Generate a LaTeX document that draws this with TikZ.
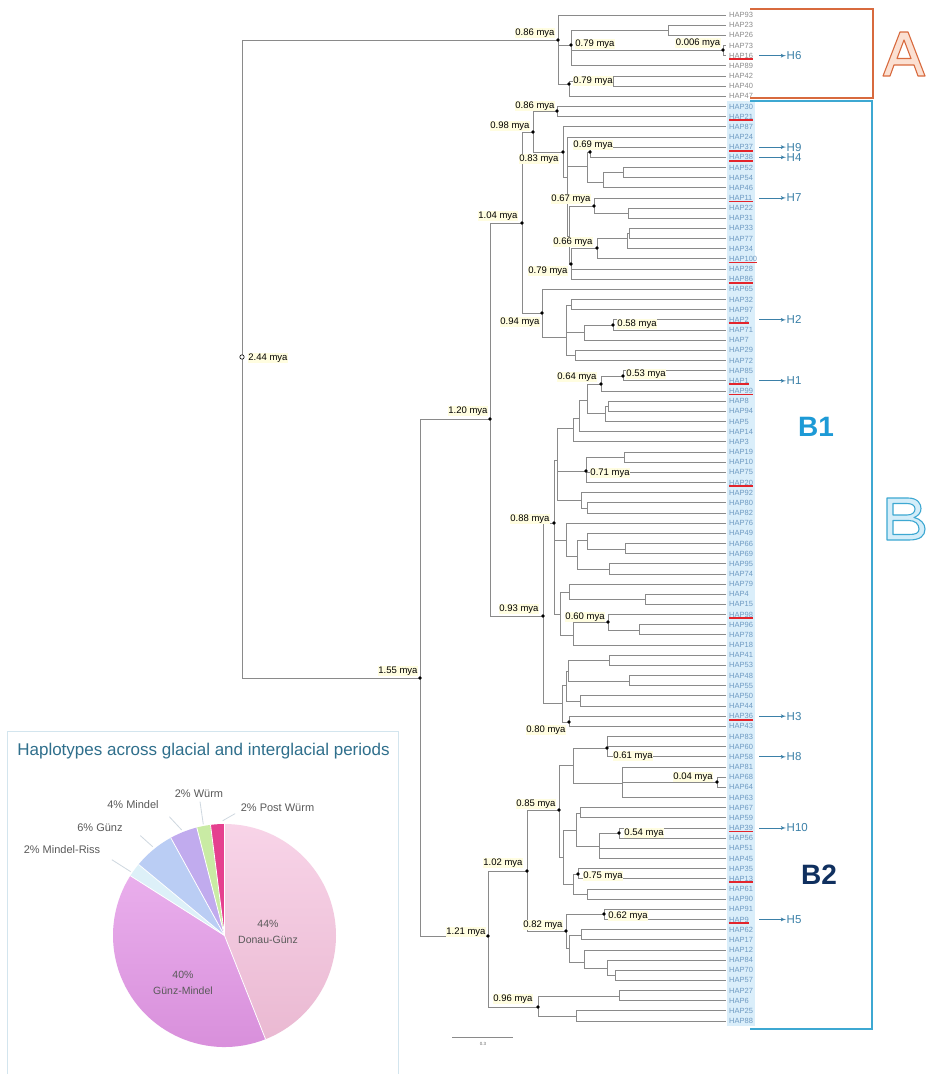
\documentclass[tikz,border=0pt]{standalone}
\usepackage{fontspec}
\setmainfont{Liberation Sans}
\usetikzlibrary{arrows}
\usetikzlibrary{positioning}

\definecolor{branchgray}{HTML}{8A8A8A}
\definecolor{leafA}{HTML}{8C8C8C}
\definecolor{leafB}{HTML}{6E9AC2}
\definecolor{leafbg}{HTML}{DAEEFA}
\definecolor{ulred}{HTML}{E3242B}
\definecolor{hblue}{HTML}{3B80A8}
\definecolor{cladeA}{HTML}{D86A3E}
\definecolor{cladeAfill}{HTML}{FBE0D2}
\definecolor{cladeB}{HTML}{3DA8D2}
\definecolor{cladeBfill}{HTML}{D3EDF9}
\definecolor{bone}{HTML}{1D9AD6}
\definecolor{btwo}{HTML}{10305F}
\definecolor{myabg}{HTML}{FFFDE0}
\definecolor{titleblue}{HTML}{2F6F8C}
\definecolor{boxline}{HTML}{D3E5EE}
\definecolor{leadgray}{HTML}{CFD8E0}
\definecolor{pieDG}{HTML}{F8D4E8}
\definecolor{pieDGb}{HTML}{EAB9D2}
\definecolor{pieGM}{HTML}{E9AEEC}
\definecolor{pieGMb}{HTML}{D78DDA}
\definecolor{pieMR}{HTML}{DDF0F8}
\definecolor{pieG}{HTML}{BACDF4}
\definecolor{pieM}{HTML}{C1ABEE}
\definecolor{pieW}{HTML}{C9EBA4}
\definecolor{piePW}{HTML}{E5408F}

\tikzset{branch/.style = {draw=branchgray, line width=0.8pt},
         leaf/.style = {anchor=west, inner sep=0pt,
                        font=\fontsize{7.5}{8}\selectfont},
         mya/.style = {fill=myabg, inner sep=0.6pt,
                       font=\fontsize{9.5}{10}\selectfont},
         uline/.style = {draw=ulred, line width=1.8pt},
         harrow/.style = {draw=hblue, line width=0.8pt, -latex'},
         hlab/.style = {anchor=west, inner sep=0.5pt, text=hblue,
                        font=\fontsize{11.5}{12}\selectfont},
         piecap/.style = {inner sep=0.5pt, text=black!65,
                          font=\fontsize{11}{12}\selectfont},
         leader/.style = {draw=leadgray, line width=0.8pt}}

\begin{document}
\begin{tikzpicture}[x=1pt, y=-1pt]
  \useasboundingbox[fill=white] (0,0) rectangle (926,1074);

  % highlight of the B labels
  \fill[leafbg] (727,101) rectangle (755,1026);

  % leaves
  \foreach \n [count=\i] in {93,23,26,73,16,89,42,40,47,30,21,87,24,37,38,52,54,
      46,11,22,31,33,77,34,100,28,86,65,32,97,2,71,7,29,72,85,1,99,8,94,5,14,3,
      19,10,75,20,92,80,82,76,49,66,69,95,74,79,4,15,98,96,78,18,41,53,48,55,50,
      44,36,43,83,60,58,81,68,64,63,67,59,39,56,51,45,35,13,61,90,91,9,62,17,12,
      84,70,57,27,6,25,88} {
    \pgfmathsetmacro\yy{15+(\i-1)*10.162}
    \coordinate (h\n) at (726,\yy);
    \ifnum\i<10
      \node[leaf, text=leafA] (t\n) at (729,\yy) {HAP\n};
    \else
      \node[leaf, text=leafB] (t\n) at (729,\yy) {HAP\n};
    \fi
  }

  % inner nodes
  \foreach \n/\x/\y in {root/242/357, nA/558/40, nA1/571/45, nA1a/668/30,
      nA1b/723/50, nA2/569/84, nA2a/613/81,
      n155/420/678, n120/490/419, n104/522/223, n098/533/132, n086/557/111,
      n083/563/152, nB1/567/177, nB2/587/166, n069/590/152, nB3/603/182,
      nB4/623/172, nB5/569/236, n067/594/206, nB6/628/213, n079b/571/264,
      n066/597/248, nB7/627/238, nB8/629/233,
      n094/542/313, nC1/566/337, nC2/571/305, nC3/584/332, n058/613/325,
      nC5/575/355,
      n093/543/616, n088/554/523, nE/557/460, nE1/573/428, nE1a/579/418,
      nE1b/587/400, n064/601/384, n053/623/376, nE1c/605/413, nE1d/608/406,
      n071/586/471, nE3/624/457, nE2/581/500, nE4/587/508,
      nF/566/540, nF1/577/556, nF2/587/540, nF3/625/549, nF4/609/569,
      nG/560/614, nG1/569/592, nG3/645/599, nG2/573/635, n060/608/622,
      nG4/639/630,
      nH/562/703, nH1/566/685, nH2/568/671, nH3/609/660, nH4/629/681,
      nH5/580/701, n080/569/722,
      n121/488/936, n102/527/871, n085/559/810, nI/573/765, n061/607/748,
      nI2/622/783, n004/717/782, nL/563/857, nJ/576/830, nJ1/580/813,
      nJ2/599/846, n054/619/833, nK/573/884, n075/578/874, nK1/587/894,
      n082/566/931, n062/604/914, nM/569/948, nM1/581/935, nN/584/962,
      nO/607/968, nO1/615/975, n096/538/1007, nP1/619/996, nP2/576/1016}
    \coordinate (\n) at (\x,\y);

  % branches
  \foreach \p/\c in {root/nA, root/n155,
      nA/h93, nA/nA1, nA/nA2, nA1/nA1a, nA1/nA1b, nA1/h89, nA1a/h23, nA1a/h26,
      nA1b/h73, nA1b/h16, nA2/nA2a, nA2/h47, nA2a/h42, nA2a/h40,
      n155/n120, n155/n121, n120/n104, n120/n093, n104/n098, n104/n094,
      n098/n086, n098/n083, n086/h30, n086/h21, n083/h87, n083/nB1,
      nB1/h24, nB1/nB2, nB1/nB5, nB2/n069, nB2/nB3, n069/h37, n069/h38,
      nB3/nB4, nB3/h46, nB4/h52, nB4/h54, nB5/n067, nB5/n079b,
      n067/h11, n067/nB6, nB6/h22, nB6/h31, n079b/n066, n079b/h28, n079b/h86,
      n066/nB7, n066/h100, nB7/nB8, nB7/h34, nB8/h33, nB8/h77,
      n094/h65, n094/nC1, nC1/nC2, nC1/nC3, nC1/nC5, nC2/h32, nC2/h97,
      nC3/n058, nC3/h7, n058/h2, n058/h71, nC5/h29, nC5/h72,
      n093/n088, n093/nH, n088/nE, n088/nF, n088/nG,
      nE/nE1, nE/n071, nE/nE2, nE1/nE1a, nE1/h3, nE1a/nE1b, nE1a/h14,
      nE1b/n064, nE1b/nE1c, n064/n053, n064/h99, n053/h85, n053/h1,
      nE1c/nE1d, nE1c/h5, nE1d/h8, nE1d/h94, n071/nE3, n071/h75, n071/h20,
      nE3/h19, nE3/h10, nE2/h92, nE2/nE4, nE4/h80, nE4/h82,
      nF/h76, nF/nF1, nF1/nF2, nF1/nF4, nF2/h49, nF2/nF3, nF3/h66, nF3/h69,
      nF4/h95, nF4/h74, nG/nG1, nG/nG2, nG1/h79, nG1/nG3, nG3/h4, nG3/h15,
      nG2/n060, nG2/h18, n060/h98, n060/nG4, nG4/h96, nG4/h78,
      nH/nH1, nH/n080, nH1/nH2, nH1/nH5, nH2/nH3, nH2/nH4, nH3/h41, nH3/h53,
      nH4/h48, nH4/h55, nH5/h50, nH5/h44, n080/h36, n080/h43,
      n121/n102, n121/n096, n102/n085, n102/n082, n085/nI, n085/nL,
      nI/n061, nI/nI2, n061/h83, n061/h60, n061/h58, nI2/h81, nI2/n004,
      nI2/h63, n004/h68, n004/h64, nL/nJ, nL/nK, nJ/nJ1, nJ/nJ2,
      nJ1/h67, nJ1/h59, nJ2/n054, nJ2/h51, nJ2/h45, n054/h39, n054/h56,
      nK/n075, nK/nK1, n075/h35, n075/h13, nK1/h61, nK1/h90,
      n082/n062, n082/nM, n062/h91, n062/h9, nM/nM1, nM/nN, nM1/h62, nM1/h17,
      nN/h12, nN/nO, nO/h84, nO/nO1, nO1/h70, nO1/h57,
      n096/nP1, n096/nP2, nP1/h27, nP1/h6, nP2/h25, nP2/h88}
    \draw[branch] (\p) |- (\c);

  % node dates
  \foreach \n in {nA,nA1,nA1b,nA2,n086,n098,n083,n069,n067,n066,n079b,n104,
      n094,n058,n064,n053,n120,n071,n088,n093,n060,n155,n080,n061,n004,n085,
      n054,n102,n075,n121,n062,n082,n096}
    \fill (\n) circle[radius=1.8];
  \draw[fill=white, line width=0.6pt] (root) circle[radius=2.2];
  \foreach \n/\v/\x/\y in {root/2.44/268/358, nA/0.86/535/33, nA1/0.79/595/44,
      nA1b/0.006/698/43, nA2/0.79/593/81, n086/0.86/535/106,
      n098/0.98/510/126, n083/0.83/539/159, n069/0.69/593/145,
      n067/0.67/571/199, n066/0.66/573/242, n079b/0.79/548/271,
      n104/1.04/498/216, n094/0.94/520/322, n058/0.58/637/324,
      n064/0.64/577/377, n053/0.53/646/374, n120/1.20/468/411,
      n071/0.71/610/473, n088/0.88/530/519, n093/0.93/519/609,
      n060/0.60/585/617, n155/1.55/398/671, n080/0.80/546/730,
      n061/0.61/633/756, n004/0.04/693/777, n085/0.85/536/804,
      n054/0.54/644/833, n102/1.02/503/863, n075/0.75/603/876,
      n121/1.21/466/932, n062/0.62/628/916, n082/0.82/543/925,
      n096/0.96/513/999}
    \node[mya] (m\n) at (\x,\y) {\v\ mya};

  % scale bar
  \coordinate (sb1) at (452,1037);
  \coordinate (sb2) at (513,1037);
  \draw[branch, line width=0.6pt] (sb1) -- (sb2);
  \node[inner sep=0pt, font=\fontsize{4.5}{5}\selectfont, text=black!60]
    (sbl) at (483,1044) {0.3};

  % underlined haplotypes
  \foreach \n in {16,21,37,38,11,100,86,2,1,99,20,98,36,39,13,9}
    \draw[uline] ([yshift=-0.7pt]t\n.south west) -- ([yshift=-0.7pt]t\n.south east);

  % arrows to the named haplotypes
  \coordinate (ax) at (759,0);
  \coordinate (hx) at (786,0);
  \foreach \h/\n in {6/16, 9/37, 4/38, 7/11, 2/2, 1/1, 3/36, 8/58, 10/39, 5/9} {
    \node[hlab] (H\h) at (h\n -| hx) {H\h};
    \coordinate (a\h) at (h\n -| ax);
    \draw[harrow] (a\h) -- (H\h.west);
  }

  % clade brackets
  \draw[cladeA, line width=1.4pt] (750,9) -- (873,9) -- (873,98) -- (750,98);
  \draw[cladeB, line width=1.4pt] (750,101) -- (872,101) -- (872,1029) -- (750,1029);
  \draw[cladeA, fill=cladeAfill, line width=1.1pt, even odd rule, line join=round]
    (883,76) -- (900,32) -- (908,32) -- (925,76) -- (918,76) -- (914,65)
    -- (894,65) -- (890,76) -- cycle
    (897,58.5) -- (904,40) -- (911,58.5) -- cycle;
  \draw[cladeB, fill=cladeBfill, line width=1.1pt, even odd rule, line join=round]
    (887,498) -- (908,498) .. controls (918,498) and (921,504) .. (921,508.5)
    .. controls (921,513) and (918,516) .. (914,517.5)
    .. controls (921,519) and (925,524) .. (925,529)
    .. controls (925,536) and (920,540) .. (909,540) -- (887,540) -- cycle
    (893,503.5) -- (907,503.5) .. controls (912,503.5) and (915,505.5) .. (915,509)
    .. controls (915,512.5) and (912,515) .. (907,515) -- (893,515) -- cycle
    (893,520.5) -- (909,520.5) .. controls (915,520.5) and (919,524) .. (919,529)
    .. controls (919,533) and (916,534.5) .. (909,534.5) -- (893,534.5) -- cycle;
  \node[text=bone, font=\fontsize{28}{28}\selectfont\bfseries] (B1) at (816,427) {B1};
  \node[text=btwo, font=\fontsize{28}{28}\selectfont\bfseries] (B2) at (819,875) {B2};

  % pie chart of the periods
  \draw[boxline, line width=1pt] (7,1074) -- (7,731) -- (398,731) -- (398,1074);
  \node[text=titleblue, font=\fontsize{17}{18}\selectfont] (ptitle) at (203.5,751)
    {Haplotypes across glacial and interglacial periods};
  \begin{scope}[shift={(224.5,935.5)}, yscale=-1]
    \shade[top color=pieDG, bottom color=pieDGb]
      (0,0) -- (90:111.5) arc[start angle=90, end angle=-68.4, radius=111.5] -- cycle;
    \shade[top color=pieGM, bottom color=pieGMb]
      (0,0) -- (-68.4:111.5) arc[start angle=-68.4, end angle=-212.4, radius=111.5] -- cycle;
    \foreach \a/\b/\c in {-212.4/-219.6/pieMR, -219.6/-241.2/pieG,
        -241.2/-255.6/pieM, -255.6/-262.8/pieW, -262.8/-270/piePW}
      \fill[\c] (0,0) -- (\a:111.5) arc[start angle=\a, end angle=\b, radius=111.5] -- cycle;
    \foreach \a in {90,-68.4,-212.4,-219.6,-241.2,-255.6,-262.8}
      \draw[white, line width=0.8pt] (0,0) -- (\a:111.5);
  \end{scope}
  \node[piecap, align=center, font=\fontsize{10.5}{16}\selectfont] (pDG) at (268,932)
    {44\%\\Donau-Günz};
  \node[piecap, align=center, font=\fontsize{10.5}{16}\selectfont] (pGM) at (183,983)
    {40\%\\Günz-Mindel};
  \node[piecap] (pPW) at (277.5,808) {2\% Post Würm};
  \node[piecap] (pW) at (199,794) {2\% Würm};
  \node[piecap] (pM) at (133,805) {4\% Mindel};
  \node[piecap] (pG) at (100,828) {6\% Günz};
  \node[piecap] (pMR) at (62,850) {2\% Mindel-Riss};
  \coordinate (sPW) at (222.7,820.7);
  \coordinate (sW) at (203.3,824.3);
  \coordinate (sM) at (181.7,830);
  \coordinate (sG) at (152.7,846.7);
  \coordinate (sMR) at (130.7,871.7);
  \draw[leader] ([shift={(-5pt,-1pt)}]pPW.south west) -- (sPW);
  \draw[leader] ([shift={(1pt,-3pt)}]pW.south) -- (sW);
  \draw[leader] ([shift={(10pt,-7pt)}]pM.south east) -- (sM);
  \draw[leader] ([shift={(17pt,-3pt)}]pG.south east) -- (sG);
  \draw[leader] ([shift={(11pt,-5pt)}]pMR.south east) -- (sMR);
\end{tikzpicture}
\end{document}
